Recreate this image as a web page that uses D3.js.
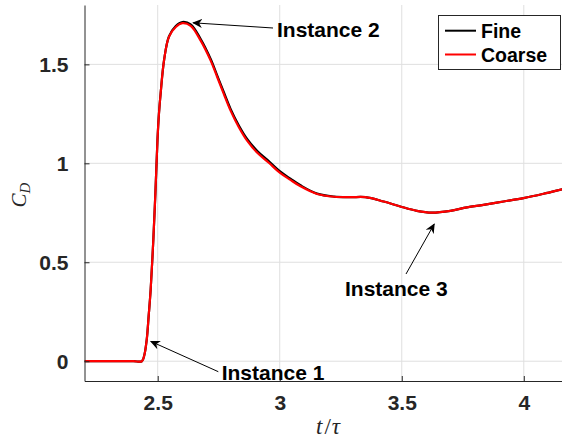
<!DOCTYPE html>
<html>
<head>
<meta charset="utf-8">
<script src="https://cdn.jsdelivr.net/npm/d3@7"></script>
<style>
  html, body { margin: 0; padding: 0; background: #fff; }
  svg { display: block; }
</style>
</head>
<body>
<svg id="chart" width="562" height="443"></svg>
<script>
// ---- data ----
const tValues = [2.20, 2.30, 2.40, 2.435, 2.445, 2.455, 2.463, 2.471, 2.482, 2.491, 2.499, 2.505, 2.512, 2.526, 2.546, 2.574, 2.601, 2.635, 2.676, 2.717, 2.744, 2.771, 2.799, 2.833, 2.867, 2.908, 2.955, 3.000, 3.044, 3.085, 3.153, 3.222, 3.290, 3.351, 3.426, 3.494, 3.562, 3.624, 3.699, 3.767, 3.835, 3.917, 3.999, 4.081, 4.157, 4.200];
const coarseCD = [0, 0, 0, 0, 0.03, 0.109, 0.23, 0.36, 0.614, 0.866, 1.118, 1.25, 1.354, 1.521, 1.639, 1.689, 1.708, 1.695, 1.620, 1.519, 1.435, 1.350, 1.265, 1.181, 1.113, 1.053, 1.003, 0.953, 0.916, 0.884, 0.845, 0.831, 0.829, 0.829, 0.807, 0.782, 0.760, 0.751, 0.760, 0.777, 0.790, 0.807, 0.824, 0.846, 0.869, 0.882];
const fineCD   = [0, 0, 0, 0, 0.03, 0.109, 0.23, 0.36, 0.614, 0.866, 1.118, 1.25, 1.354, 1.521, 1.641, 1.694, 1.714, 1.702, 1.628, 1.527, 1.443, 1.359, 1.274, 1.190, 1.122, 1.062, 1.011, 0.960, 0.922, 0.889, 0.847, 0.832, 0.829, 0.829, 0.807, 0.782, 0.760, 0.751, 0.760, 0.777, 0.790, 0.807, 0.824, 0.846, 0.869, 0.882];
const xTicks = [2.5, 3, 3.5, 4];
const yTicks = [0, 0.5, 1, 1.5];
const seriesNames = ["Fine", "Coarse"];
const seriesColors = ["#000000", "#ff0000"];
const annotations = [
  { label: "Instance 1", t: 2.472, v: 0.10 },
  { label: "Instance 2", t: 2.645, v: 1.71 },
  { label: "Instance 3", t: 3.633, v: 0.693 }
];

// ---- layout ----
const svg = d3.select("#chart");
const pL = 84.5, pR = 572.6, pT = 5, pB = 381;
const x = d3.scaleLinear().domain([2.2, 4.2]).range([pL, pR]);
const y = d3.scaleLinear().domain([-0.1, 1.8]).range([pB, pT]);
const axisColor = "#262626";
const tickFont = "'Liberation Sans', Arial, sans-serif";

// grid
const grid = svg.append("g");
grid.selectAll("line.vx").data(xTicks).enter().append("line")
  .attr("x1", d => x(d)).attr("x2", d => x(d))
  .attr("y1", pT).attr("y2", pB)
  .attr("stroke", "#dfdfdf").attr("stroke-width", 1);
grid.selectAll("line.hy").data(yTicks).enter().append("line")
  .attr("x1", pL).attr("x2", pR)
  .attr("y1", d => y(d)).attr("y2", d => y(d))
  .attr("stroke", "#dfdfdf").attr("stroke-width", 1);

// clip
svg.append("clipPath").attr("id", "clip").append("rect")
  .attr("x", pL).attr("y", pT).attr("width", pR - pL).attr("height", pB - pT);

// lines
const line = d3.line()
  .x((d, i) => x(tValues[i]))
  .y(d => y(d))
  .curve(d3.curveCatmullRom.alpha(0.5));
const plot = svg.append("g").attr("clip-path", "url(#clip)");
[fineCD, coarseCD].forEach((vals, k) => {
  plot.append("path").datum(vals)
    .attr("d", line)
    .attr("fill", "none")
    .attr("stroke", seriesColors[k])
    .attr("stroke-width", 2.2)
    .attr("stroke-linejoin", "round");
});

// axes
const xAxis = d3.axisBottom(x).tickValues(xTicks).tickFormat(d3.format("")).tickSizeInner(-5).tickSizeOuter(0).tickPadding(14);
const yAxis = d3.axisLeft(y).tickValues(yTicks).tickFormat(d3.format("")).tickSizeInner(-5).tickSizeOuter(0).tickPadding(16);
const gx = svg.append("g").attr("transform", `translate(0,${pB})`).call(xAxis);
const gy = svg.append("g").attr("transform", `translate(${pL},0)`).call(yAxis);
[gx, gy].forEach(g => {
  g.select(".domain").attr("stroke", axisColor).attr("stroke-width", 1);
  g.selectAll(".tick line").attr("stroke", axisColor);
  g.selectAll(".tick text").attr("fill", axisColor)
    .style("font-family", tickFont).style("font-weight", "bold").style("font-size", "21px");
});
gx.selectAll(".tick text").attr("dy", "0.71em").attr("y", 14);
gy.selectAll(".tick text").attr("dy", "0.36em");

// axis labels
const serif = "'Liberation Serif', 'Times New Roman', serif";
const yl = svg.append("text")
  .attr("transform", "translate(26,195) rotate(-90)")
  .attr("text-anchor", "middle")
  .style("font-family", serif).style("font-style", "italic").style("font-size", "21px")
  .attr("fill", axisColor);
yl.append("tspan").text("C");
yl.append("tspan").attr("dy", 4).style("font-size", "15px").text("D");

const xl = svg.append("text")
  .attr("x", 328).attr("y", 434)
  .attr("text-anchor", "middle")
  .style("font-family", serif).style("font-style", "italic").style("font-size", "23px")
  .attr("fill", axisColor);
xl.append("tspan").text("t");
xl.append("tspan").attr("dx", 2).style("font-style", "normal").text("/");
xl.append("tspan").attr("dx", 1).text("τ");

// annotations (arrows)
svg.append("defs").append("marker")
  .attr("id", "arrow").attr("viewBox", "0 0 10 10")
  .attr("refX", 9).attr("refY", 5)
  .attr("markerWidth", 10).attr("markerHeight", 10)
  .attr("markerUnits", "userSpaceOnUse")
  .attr("orient", "auto")
  .append("path").attr("d", "M0,0.5 L10,5 L0,9.5 L3,5 Z").attr("fill", "#000");

const annTextPos = [
  { tx: 221.7, ty: 379.5, ax: 218.3, ay: 371.7 },
  { tx: 277, ty: 36.5, ax: 273, ay: 28 },
  { tx: 345, ty: 295.5, ax: 406, ay: 274 }
];
annotations.forEach((a, i) => {
  const p = annTextPos[i];
  svg.append("line")
    .attr("x1", p.ax).attr("y1", p.ay)
    .attr("x2", x(a.t)).attr("y2", y(a.v))
    .attr("stroke", "#000").attr("stroke-width", 1)
    .attr("marker-end", "url(#arrow)");
  svg.append("text")
    .attr("x", p.tx).attr("y", p.ty)
    .style("font-family", tickFont).style("font-weight", "bold").style("font-size", "21px")
    .attr("fill", "#000")
    .text(a.label);
});

// legend
const lg = svg.append("g");
lg.append("rect").attr("x", 438.5).attr("y", 15.5).attr("width", 122).attr("height", 54)
  .attr("fill", "#fff").attr("stroke", axisColor).attr("stroke-width", 1);
seriesNames.forEach((name, i) => {
  const yy = 30.7 + i * 23.8;
  lg.append("line").attr("x1", 445).attr("x2", 476).attr("y1", yy).attr("y2", yy)
    .attr("stroke", seriesColors[i]).attr("stroke-width", 2);
  lg.append("text").attr("x", 481).attr("y", yy + 7)
    .style("font-family", tickFont).style("font-weight", "bold").style("font-size", "19.5px")
    .attr("fill", "#000").text(name);
});
</script>
</body>
</html>
